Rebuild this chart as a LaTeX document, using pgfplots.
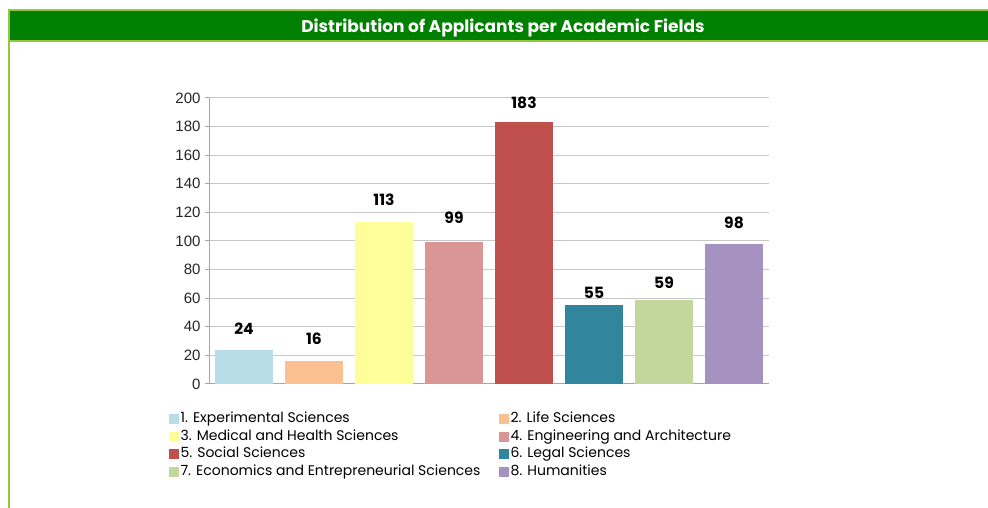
\documentclass[border=0pt]{standalone}
\usepackage{fontspec}
\setmainfont{Poppins}
\newfontfamily\arial{Liberation Sans}
\usepackage{pgfplots}
\pgfplotsset{compat=1.18}
\definecolor{cA}{HTML}{B7DDE8}
\definecolor{cB}{HTML}{FAC090}
\definecolor{cC}{HTML}{FFFF99}
\definecolor{cD}{HTML}{D99694}
\definecolor{cE}{HTML}{C0504D}
\definecolor{cF}{HTML}{31859C}
\definecolor{cG}{HTML}{C3D69B}
\definecolor{cH}{HTML}{A692C0}
\definecolor{band}{HTML}{008000}
\definecolor{lime}{HTML}{92C83E}
\definecolor{gridc}{HTML}{C8C8C8}
\definecolor{axc}{HTML}{A6A6A6}
\pgfplotsset{mybar/.style={ybar, bar width=58pt, bar shift=0pt, fill=#1, draw=none,
  legend image code/.code={\fill[##1] (0pt,-5pt) rectangle (10pt,5pt);}}}
\begin{document}
\begin{tikzpicture}[x=1pt,y=1pt]
\useasboundingbox (0,0) rectangle (988,508);
\fill[white] (0,0) rectangle (988,508);
% frame
\fill[band] (8,467) rectangle (988,498);
\draw[lime, line width=2pt] (8,498) -- (988,498);
\draw[lime, line width=1.5pt] (8,467) -- (988,467);
\draw[lime, line width=2pt] (9,0) -- (9,498);
\node[text=white, font=\bfseries\fontsize{17}{19}\selectfont] at (503,480.5) {Distribution of Applicants per Academic Fields};
\begin{axis}[
  at={(209pt,124pt)}, anchor=south west,
  scale only axis, width=560pt, height=286pt,
  xmin=-0.5, xmax=7.5, ymin=0, ymax=200,
  ytick={0,20,...,200},
  xtick=\empty,
  axis lines*=left,
  axis line style={axc, line width=1pt},
  ymajorgrids, grid style={gridc, line width=1pt},
  tick style={axc, line width=1pt},
  major tick length=4pt,
  tick align=outside,
  y tick label style={font=\arial\fontsize{15}{17}\selectfont, text=black!85, xshift=-1pt},
  /pgf/number format/assume math mode=true,
  clip=false,
  legend columns=2,
  legend cell align=left,
  legend style={at={(-0.0725,-0.096)}, anchor=north west, draw=none, fill=none,
    font=\fontsize{14}{16}\selectfont, inner sep=0pt, row sep=2.6pt,
    nodes={inner xsep=2pt, inner ysep=0pt, text height=11pt, text depth=4pt},
    /tikz/every even column/.append style={column sep=0pt}},
]
\addplot[mybar=cA] coordinates {(0,24)};
\addlegendentry{\makebox[316pt][l]{1. Experimental Sciences}}
\addplot[mybar=cB] coordinates {(1,16)};
\addlegendentry{2. Life Sciences}
\addplot[mybar=cC] coordinates {(2,113)};
\addlegendentry{\makebox[316pt][l]{3. Medical and Health Sciences}}
\addplot[mybar=cD] coordinates {(3,99)};
\addlegendentry{4. Engineering and Architecture}
\addplot[mybar=cE] coordinates {(4,183)};
\addlegendentry{\makebox[316pt][l]{5. Social Sciences}}
\addplot[mybar=cF] coordinates {(5,55)};
\addlegendentry{6. Legal Sciences}
\addplot[mybar=cG] coordinates {(6,59)};
\addlegendentry{\makebox[316pt][l]{7. Economics and Entrepreneurial Sciences}}
\addplot[mybar=cH] coordinates {(7,98)};
\addlegendentry{8. Humanities}
\addplot[only marks, mark=none, forget plot, point meta=explicit symbolic,
  nodes near coords, nodes near coords style={anchor=center, font=\bfseries\fontsize{15.5}{17}\selectfont, text=black}]
  coordinates {(0,38.5)[24] (1,31.5)[16] (2,128.7)[113] (3,116)[99] (4,196.5)[183] (5,64)[55] (6,71)[59] (7,113)[98]};
\end{axis}
\end{tikzpicture}
\end{document}
